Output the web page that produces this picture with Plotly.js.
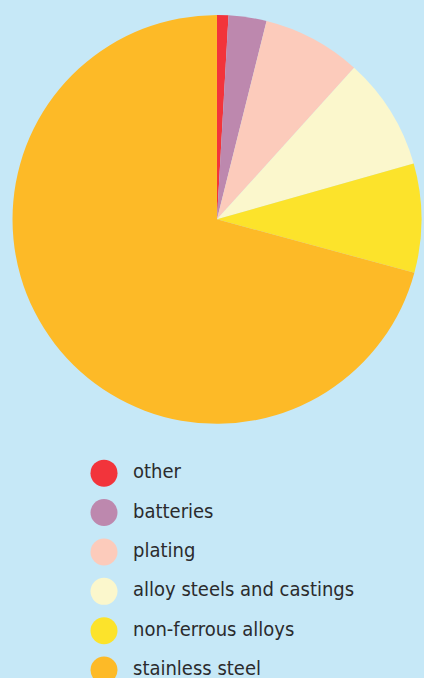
<!DOCTYPE html>
<html>
<head>
<meta charset="utf-8">
<script src="https://cdn.plot.ly/plotly-3.0.1.min.js"></script>
<style>html,body{margin:0;padding:0;background:#c6e8f7;}#chart{width:424px;height:678px;}</style>
</head>
<body>
<div id="chart"></div>
<script>
const categories = ["other", "batteries", "plating", "alloy steels and castings", "non-ferrous alloys", "stainless steel"];
const shares = [0.9, 3.0, 7.8, 8.9, 8.6, 70.8];
const colors = ["#f2343b", "#bd88ae", "#fccbbb", "#fbf7cc", "#fce32b", "#fdba27"];

const legendIdx = categories.map((c, i) => i);

const pie = {
  type: "pie",
  labels: categories,
  values: shares,
  sort: false,
  direction: "clockwise",
  rotation: 0,
  marker: {colors: colors, line: {width: 0}},
  textinfo: "none",
  hoverinfo: "label+percent",
  showlegend: false,
  domain: {x: [0.0295, 0.994], y: [0.3746, 0.9783]}
};

const legendMarkers = {
  type: "scatter",
  mode: "markers",
  x: categories.map(() => 0),
  y: legendIdx,
  marker: {color: colors, size: 27, line: {width: 0}},
  xaxis: "x", yaxis: "y",
  showlegend: false,
  hoverinfo: "skip"
};

const legendText = {
  type: "scatter",
  mode: "text",
  x: categories.map(() => 1),
  y: legendIdx,
  text: categories,
  textposition: "middle right",
  textfont: {family: "DejaVu Sans Condensed, Liberation Sans Narrow, sans-serif", size: 20, color: "#2b2b2d"},
  xaxis: "x", yaxis: "y",
  showlegend: false,
  hoverinfo: "skip"
};

const layout = {
  width: 424, height: 678,
  margin: {l: 0, r: 0, t: 0, b: 0},
  paper_bgcolor: "#c6e8f7",
  plot_bgcolor: "rgba(0,0,0,0)",
  showlegend: false,
  xaxis: {domain: [0, 1], range: [-3.586, 11.034], visible: false, fixedrange: true},
  yaxis: {domain: [0, 1], range: [5.20, -12.01], visible: false, fixedrange: true}
};

Plotly.newPlot("chart", [pie, legendMarkers, legendText], layout, {displayModeBar: false, staticPlot: true});
</script>
</body>
</html>
